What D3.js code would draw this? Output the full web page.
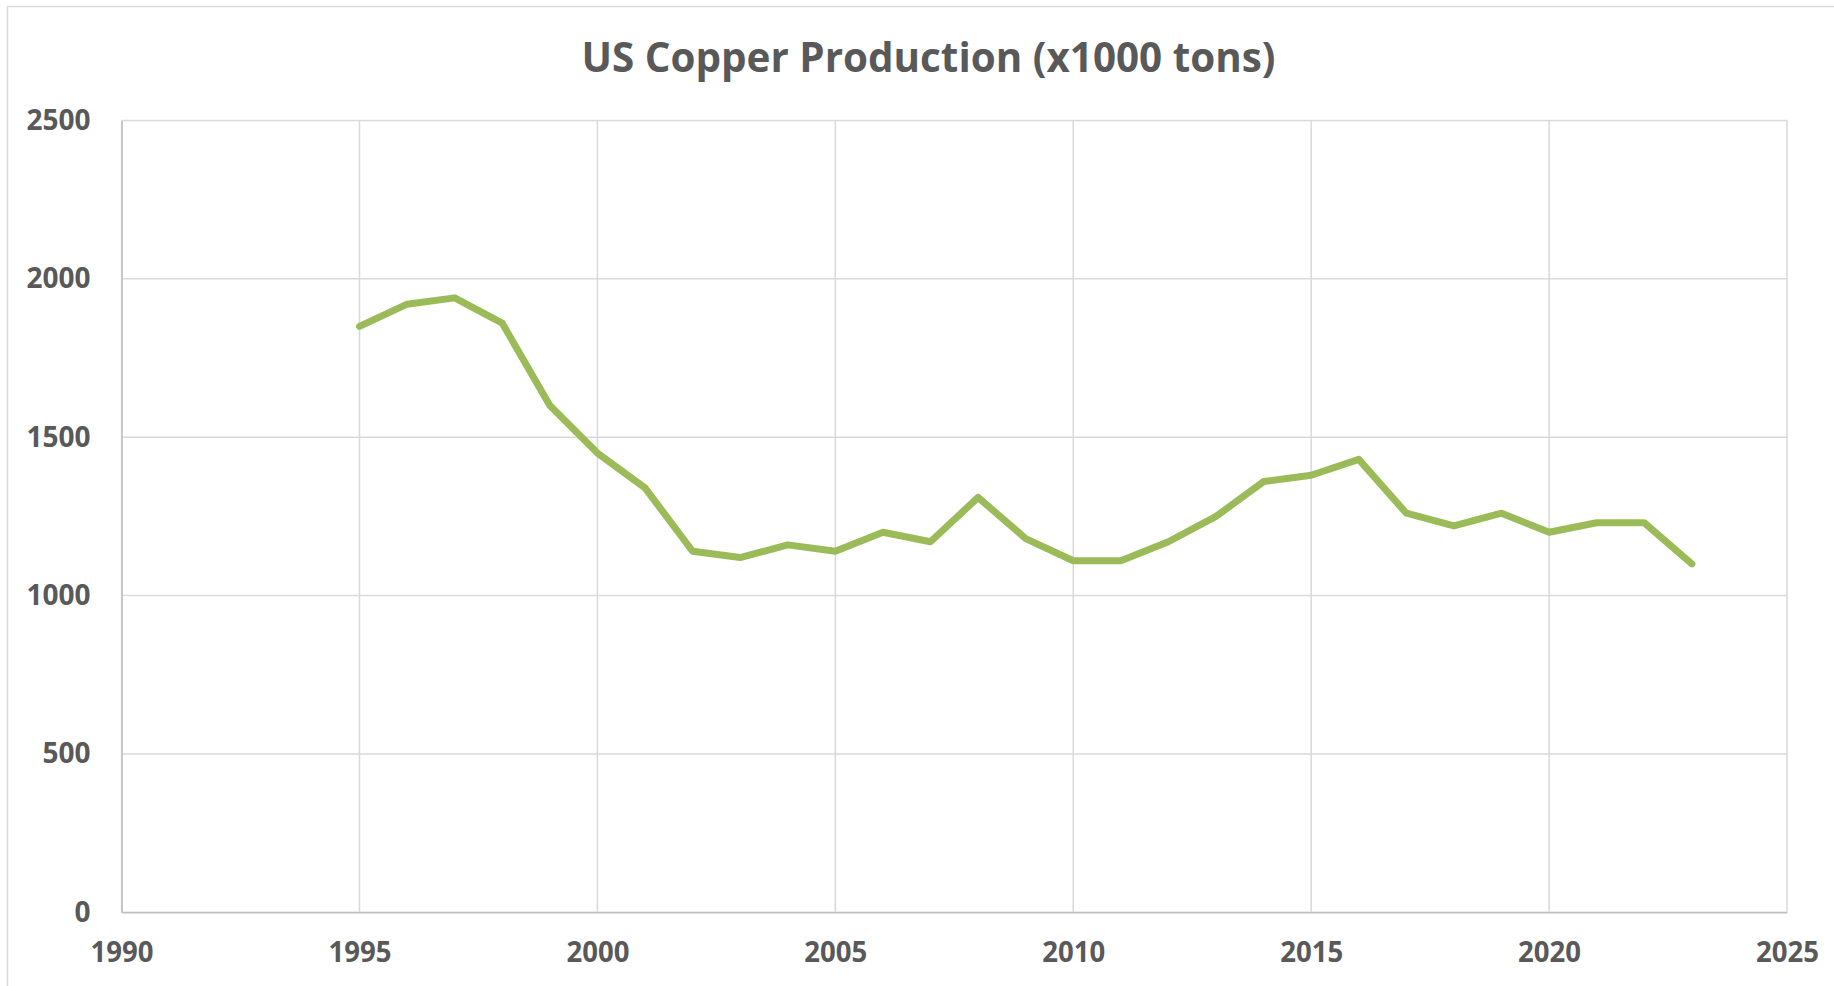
<html>
<head>
    <title>US Copper Production</title>
    <script src="https://cdn.jsdelivr.net/npm/d3@7"></script>
    <style>
        body { margin: 0; background: #fff; }
        text { font-family: "Open Sans", sans-serif; font-weight: 700; fill: #595959; }
    </style>
</head>
<body>
<script>
// data
var years  = [1995,1996,1997,1998,1999,2000,2001,2002,2003,2004,2005,2006,2007,2008,2009,
              2010,2011,2012,2013,2014,2015,2016,2017,2018,2019,2020,2021,2022,2023];
var copper = [1850,1920,1940,1860,1600,1450,1340,1140,1120,1160,1140,1200,1170,1310,1180,
              1110,1110,1170,1250,1360,1380,1430,1260,1220,1260,1200,1230,1230,1100];
var xTicks = [1990,1995,2000,2005,2010,2015,2020,2025];
var yTicks = [0,500,1000,1500,2000,2500];

var width = 1834, height = 986;
var margin = {left: 121.6, right: 1787, top: 120.5, bottom: 912.3};

var svg = d3.select("body").append("svg")
    .attr("width", width)
    .attr("height", height);

// chart area frame (cut off at right and bottom like the source)
svg.append("rect")
    .attr("x", 7.5).attr("y", 6.5)
    .attr("width", 1900).attr("height", 1100)
    .attr("fill", "none")
    .attr("stroke", "#d9d9d9")
    .attr("stroke-width", 1.5);

var x = d3.scaleLinear().domain([1990, 2025]).range([margin.left, margin.right]);
var y = d3.scaleLinear().domain([0, 2500]).range([margin.bottom, margin.top]);

// gridlines
svg.append("g")
    .selectAll("line.h").data(yTicks).enter().append("line")
    .attr("x1", margin.left).attr("x2", margin.right)
    .attr("y1", function(d){ return y(d); }).attr("y2", function(d){ return y(d); })
    .attr("stroke", "#d9d9d9").attr("stroke-width", 1.5);

svg.append("g")
    .selectAll("line.v").data(xTicks).enter().append("line")
    .attr("y1", margin.top).attr("y2", margin.bottom)
    .attr("x1", function(d){ return x(d); }).attr("x2", function(d){ return x(d); })
    .attr("stroke", "#d9d9d9").attr("stroke-width", 1.5);

// axes
var xAxis = svg.append("g")
    .attr("transform", "translate(0," + margin.bottom + ")")
    .call(d3.axisBottom(x).tickValues(xTicks).tickFormat(d3.format("d")).tickSize(0).tickPadding(30));
xAxis.select(".domain").attr("stroke", "#bfbfbf").attr("stroke-width", 1.5);
xAxis.selectAll("text").attr("font-size", 28).attr("fill", "#595959")
    .attr("textLength", 63).attr("lengthAdjust", "spacingAndGlyphs");

var yAxis = svg.append("g")
    .attr("transform", "translate(" + margin.left + ",0)")
    .call(d3.axisLeft(y).tickValues(yTicks).tickFormat(d3.format("d")).tickSize(0).tickPadding(31));
yAxis.select(".domain").attr("stroke", "#bfbfbf").attr("stroke-width", 1.5);
yAxis.selectAll("text").attr("font-size", 28).attr("fill", "#595959");

// series line
var line = d3.line()
    .x(function(d, i){ return x(years[i]); })
    .y(function(d){ return y(d); });

svg.append("path")
    .datum(copper)
    .attr("fill", "none")
    .attr("stroke", "#9bbb59")
    .attr("stroke-width", 7)
    .attr("stroke-linejoin", "round")
    .attr("stroke-linecap", "round")
    .attr("d", line);

// title
svg.append("text")
    .attr("x", 928.5)
    .attr("y", 72)
    .attr("text-anchor", "middle")
    .attr("font-size", 41)
    .attr("textLength", 694)
    .attr("lengthAdjust", "spacingAndGlyphs")
    .text("US Copper Production (x1000 tons)");
</script>
</body>
</html>
